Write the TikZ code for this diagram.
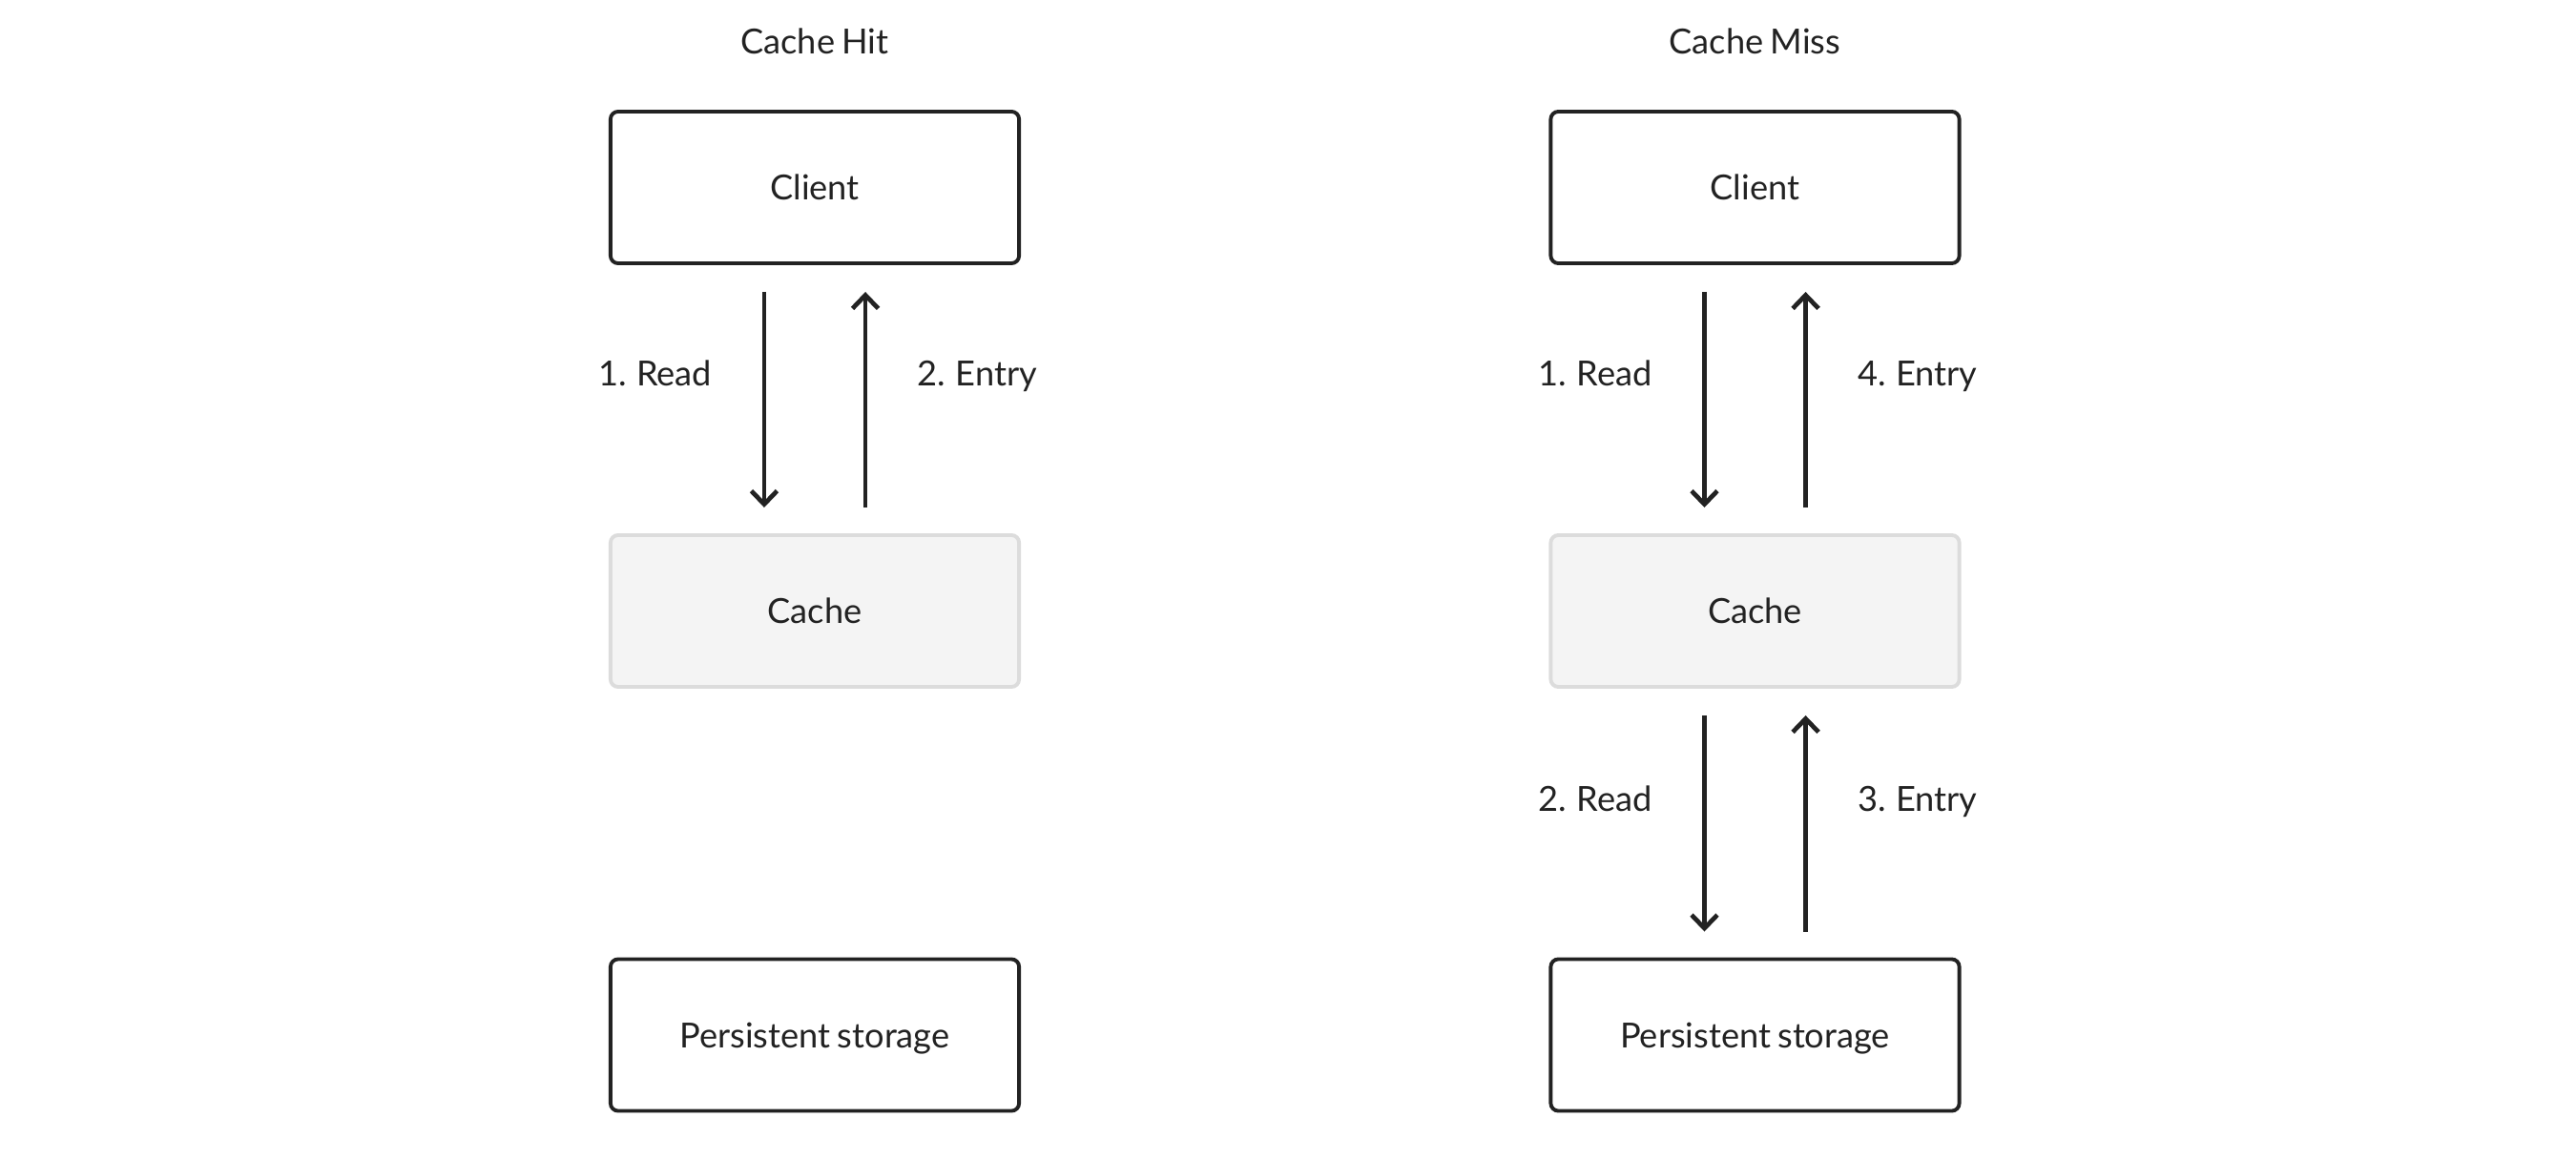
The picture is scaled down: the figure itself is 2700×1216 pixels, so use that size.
\documentclass[tikz,border=0pt]{standalone}
\usepackage{fontspec}
\setmainfont{Lato}
\usetikzlibrary{arrows.meta}
\definecolor{ink}{HTML}{222222}
\definecolor{cachefill}{HTML}{F4F4F4}
\definecolor{cacheline}{HTML}{DCDCDC}
\newcommand\lblfont{\fontsize{10.3pt}{12pt}\selectfont\spaceskip=0.2em plus 0.05em}
\begin{document}
\begin{tikzpicture}[x=0.01cm,y=-0.01cm,
  box/.style={draw=ink, line width=1.1pt, rounded corners=0.08cm,
    minimum width=4.28cm, minimum height=1.59cm, inner sep=0pt,
    text height=0.26cm, text depth=0pt, text=ink, font=\lblfont},
  cachebox/.style={box, draw=cacheline, fill=cachefill},
  arr/.style={draw=ink, line width=1.35pt,
    -{Straight Barb[length=0.14cm, width=0.27cm]}},
  lbl/.style={text=ink, font=\lblfont, inner sep=0pt},
  ttl/.style={text=ink, font=\lblfont, inner sep=0pt, anchor=base}
]
\useasboundingbox[fill=white] (0,0) rectangle (2700,1216);

% ---- Cache Hit ----
\node[ttl] (t1) at (854,57) {Cache Hit};
\node[box] (c1) at (854,196.5) {Client};
\node[cachebox] (k1) at (854,640.5) {Cache};
\node[box] (p1) at (854,1085) {Persistent storage};

\coordinate (a1s) at ([xshift=-0.53cm,yshift=-0.28cm]c1.south);
\coordinate (a1e) at ([xshift=-0.53cm,yshift=0.27cm]k1.north);
\coordinate (b1s) at ([xshift=0.53cm,yshift=0.27cm]k1.north);
\coordinate (b1e) at ([xshift=0.53cm,yshift=-0.28cm]c1.south);
\draw[arr] (a1s) -- (a1e);
\draw[arr] (b1s) -- (b1e);
\node[lbl, anchor=base east] (l1) at ([xshift=-0.54cm]a1s |- 0,405) {1. Read};
\node[lbl, anchor=base west] (l2) at ([xshift=0.54cm]b1s |- 0,405) {2. Entry};

% ---- Cache Miss ----
\node[ttl] (t2) at (1839.5,57) {Cache Miss};
\node[box] (c2) at (1839.5,196.5) {Client};
\node[cachebox] (k2) at (1839.5,640.5) {Cache};
\node[box] (p2) at (1839.5,1085) {Persistent storage};

\coordinate (a2s) at ([xshift=-0.53cm,yshift=-0.28cm]c2.south);
\coordinate (a2e) at ([xshift=-0.53cm,yshift=0.27cm]k2.north);
\coordinate (b2s) at ([xshift=0.53cm,yshift=0.27cm]k2.north);
\coordinate (b2e) at ([xshift=0.53cm,yshift=-0.28cm]c2.south);
\draw[arr] (a2s) -- (a2e);
\draw[arr] (b2s) -- (b2e);
\node[lbl, anchor=base east] (l3) at ([xshift=-0.54cm]a2s |- 0,405) {1. Read};
\node[lbl, anchor=base west] (l4) at ([xshift=0.54cm]b2s |- 0,405) {4. Entry};

\coordinate (a3s) at ([xshift=-0.53cm,yshift=-0.28cm]k2.south);
\coordinate (a3e) at ([xshift=-0.53cm,yshift=0.27cm]p2.north);
\coordinate (b3s) at ([xshift=0.53cm,yshift=0.27cm]p2.north);
\coordinate (b3e) at ([xshift=0.53cm,yshift=-0.28cm]k2.south);
\draw[arr] (a3s) -- (a3e);
\draw[arr] (b3s) -- (b3e);
\node[lbl, anchor=base east] (l5) at ([xshift=-0.54cm]a3s |- 0,850) {2. Read};
\node[lbl, anchor=base west] (l6) at ([xshift=0.54cm]b3s |- 0,850) {3. Entry};
\end{tikzpicture}
\end{document}
